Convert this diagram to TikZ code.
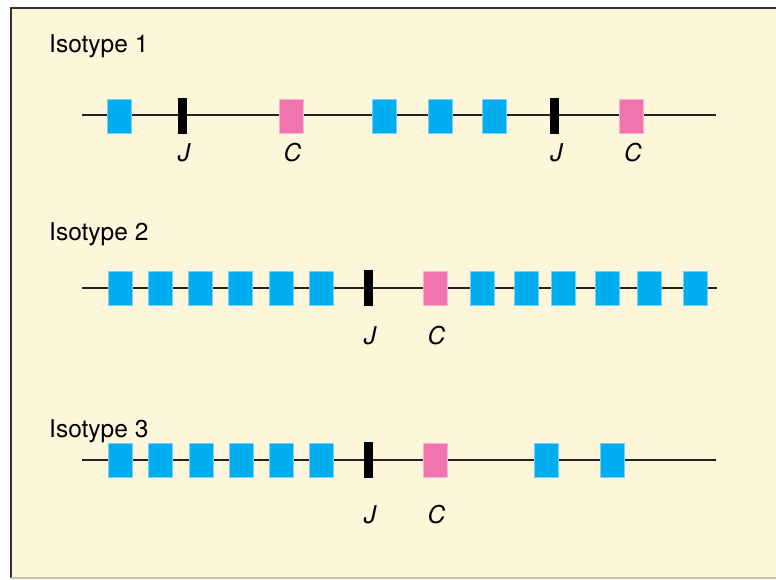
\documentclass[tikz,border=0pt]{standalone}
\usepackage{fontspec}
\setmainfont{TeX Gyre Heros}
\definecolor{cream}{HTML}{FEF6DA}
\definecolor{vblue}{HTML}{00ADEE}
\definecolor{cpink}{HTML}{F174AE}
\definecolor{framedark}{HTML}{333333}
\definecolor{framelight}{HTML}{C4C0AE}
\definecolor{dnaline}{HTML}{222222}
\tikzset{
  vbox/.style={rectangle, fill=vblue, draw=vblue!55!white, line width=0.5pt, minimum width=24pt, minimum height=34pt, inner sep=0pt},
  cbox/.style={rectangle, fill=cpink, draw=cpink!55!white, line width=0.5pt, minimum width=24pt, minimum height=34pt, inner sep=0pt},
  jbar/.style={rectangle, fill=black, minimum width=9pt, minimum height=36pt, inner sep=0pt},
  lbl/.style={font=\fontsize{24.5}{25}\selectfont\itshape, anchor=base, inner sep=0pt},
  ttl/.style={font=\fontsize{24.5}{25}\selectfont, anchor=base west, inner sep=0pt},
  dna/.style={draw=dnaline, line width=1.6pt}
}
\begin{document}
\begin{tikzpicture}[x=1pt,y=-1pt]
\useasboundingbox (0,0) rectangle (776,579);
\fill[white] (0,0) rectangle (776,579);
\fill[cream] (11,8) rectangle (776,578);
\draw[framedark, line width=1.5pt] (776,8) -- (11,8) -- (11,578);
\draw[framelight, line width=1.2pt] (11,578) -- (776,578);

% Row 1
\node[ttl] (t1) at (49,52) {Isotype 1};
\coordinate (r1s) at (82,115);
\coordinate (r1e) at (716,115);
\draw[dna] (r1s) -- (r1e);
\node[vbox] (v11) at (119,116) {};
\node[jbar] (j11) at (182,116) {};
\node[cbox] (c11) at (291,116) {};
\node[vbox] (v12) at (384.5,116) {};
\node[vbox] (v13) at (440,116) {};
\node[vbox] (v14) at (494,116) {};
\node[jbar] (j12) at (554.3,116) {};
\node[cbox] (c12) at (631.3,116) {};
\node[lbl] (lj11) at (184,161) {J};
\node[lbl] (lc11) at (292.5,161) {C};
\node[lbl] (lj12) at (556.5,161) {J};
\node[lbl] (lc12) at (633,161) {C};

% Row 2
\node[ttl] (t2) at (49,240) {Isotype 2};
\coordinate (r2s) at (82,288);
\coordinate (r2e) at (717,288);
\draw[dna] (r2s) -- (r2e);
\foreach \x [count=\i] in {120.3,160.3,200.3,240.7,281,321.3}
  \node[vbox] (v2a\i) at (\x,288) {};
\node[jbar] (j2) at (368,288) {};
\node[cbox] (c2) at (435,288) {};
\foreach \x [count=\i] in {482,526,563.3,607.7,649.7,695.7}
  \node[vbox] (v2b\i) at (\x,288) {};
\node[lbl] (lj2) at (370,344) {J};
\node[lbl] (lc2) at (436.5,344) {C};

% Row 3
\node[ttl] (t3) at (49,437) {Isotype 3};
\coordinate (r3s) at (82,460);
\coordinate (r3e) at (716,460);
\draw[dna] (r3s) -- (r3e);
\foreach \x [count=\i] in {120.7,160.7,201,241,281.3,321.6}
  \node[vbox] (v3a\i) at (\x,460) {};
\node[jbar] (j3) at (368,460) {};
\node[cbox] (c3) at (435,460) {};
\node[vbox] (v3b1) at (546,460) {};
\node[vbox] (v3b2) at (612,460) {};
\node[lbl] (lj3) at (370,523) {J};
\node[lbl] (lc3) at (436.5,523) {C};
\end{tikzpicture}
\end{document}
